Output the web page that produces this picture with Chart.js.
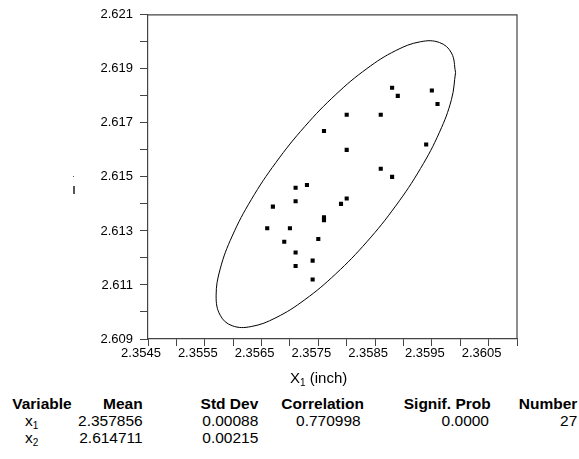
<!DOCTYPE html>
<html>
<head>
<meta charset="utf-8">
<script src="https://cdn.jsdelivr.net/npm/chart.js@4.4.0/dist/chart.umd.min.js"></script>
<style>
    body { margin: 0; background: #fff; font-family: 'Liberation Sans', Arial, sans-serif; }
    #wrap { position: relative; width: 579px; height: 459px; overflow: hidden; }
    #myChart { position: absolute; left: 0; top: 0; }
    .txt { position: absolute; white-space: nowrap; font-size: 15.5px; line-height: 18px; color: #000; }
    .hdr { font-weight: bold; }
    .txt sub { font-size: 10px; vertical-align: -3px; }
    #xTitle { position: absolute; left: 290px; top: 369px; font-size: 15px; line-height: 18px; white-space: nowrap; }
    #xTitle sub { font-size: 10px; vertical-align: -3px; }
    .frag { position: absolute; background: #555; }
</style>
</head>
<body>
<div id="wrap">
    <canvas id="myChart" width="579" height="370"></canvas>
    <div class="frag" style="left:73px; top:176px; width:1px; height:1px;"></div>
    <div class="frag" style="left:73px; top:186px; width:2px; height:8px;"></div>
    <div id="xTitle">X<sub>1</sub> (inch)</div>
    <div id="statsTable"></div>
</div>
<script>
// Scatter points (x1, x2)
const xValues = [2.3588, 2.3589, 2.3595, 2.3596, 2.3580, 2.3586, 2.3576, 2.3594, 2.3580,
                 2.3586, 2.3588, 2.3573, 2.3571, 2.3571, 2.3567, 2.3580, 2.3579, 2.3576,
                 2.3576, 2.3566, 2.3570, 2.3575, 2.3569, 2.3571, 2.3574, 2.3571, 2.3574];
const yValues = [2.6183, 2.6180, 2.6182, 2.6177, 2.6173, 2.6173, 2.6167, 2.6162, 2.6160,
                 2.6153, 2.6150, 2.6147, 2.6146, 2.6141, 2.6139, 2.6142, 2.6140, 2.6135,
                 2.6134, 2.6131, 2.6131, 2.6127, 2.6126, 2.6122, 2.6119, 2.6117, 2.6112];

// Density ellipse outline, read around the curve
const ellipseX = [2.359918, 2.359846, 2.359635, 2.359300, 2.358863, 2.358355, 2.357809, 2.357263,
                  2.356755, 2.356318, 2.355983, 2.355772, 2.355700, 2.355772, 2.355983, 2.356318,
                  2.356755, 2.357263, 2.357809, 2.358355, 2.358863, 2.359300, 2.359635, 2.359846, 2.359918];
const ellipseY = [2.618868, 2.619586, 2.619973, 2.620003, 2.619674, 2.619008, 2.618051, 2.616867,
                  2.615538, 2.614154, 2.612809, 2.611596, 2.610596, 2.609878, 2.609491, 2.609461,
                  2.609790, 2.610456, 2.611414, 2.612597, 2.613926, 2.615310, 2.616655, 2.617868, 2.618868];

// Tick labels
const xTickLabels = ['2.3545', '2.3555', '2.3565', '2.3575', '2.3585', '2.3595', '2.3605'];
const yTickLabels = ['2.609', '2.611', '2.613', '2.615', '2.617', '2.619', '2.621'];

// Summary table
const statsHeaders = ['Variable', 'Mean', 'Std Dev', 'Correlation', 'Signif. Prob', 'Number'];
const statsVars = ['1', '2'];
const statsMeans = ['2.357856', '2.614711'];
const statsStdDevs = ['0.00088', '0.00215'];
const statsCorrelation = '0.770998';
const statsSignif = '0.0000';
const statsNumber = '27';

const axisColor = '#444';
const tickFont = { family: "'Liberation Sans', Arial, sans-serif", size: 13 };

// Frame on the top and right side of the plot
const framePlugin = {
    id: 'frame',
    afterDraw(chart) {
        const { ctx, chartArea: a } = chart;
        ctx.save();
        ctx.strokeStyle = axisColor;
        ctx.lineWidth = 1.2;
        ctx.beginPath();
        ctx.moveTo(a.left, a.top);
        ctx.lineTo(a.right, a.top);
        ctx.lineTo(a.right, a.bottom);
        ctx.stroke();
        ctx.restore();
    }
};

const ctx = document.getElementById('myChart').getContext('2d');
const myChart = new Chart(ctx, {
    type: 'scatter',
    data: {
        datasets: [{
            label: 'ellipse',
            data: ellipseX.map((x, i) => ({ x: x, y: ellipseY[i] })),
            showLine: true,
            borderColor: '#000',
            borderWidth: 1,
            pointRadius: 0,
            tension: 0.4,
            fill: false
        }, {
            label: 'points',
            data: xValues.map((x, i) => ({ x: x, y: yValues[i] })),
            pointStyle: 'rect',
            pointRadius: 2.9,
            pointBorderWidth: 0,
            pointBackgroundColor: '#000',
            borderWidth: 0
        }]
    },
    options: {
        responsive: false,
        animation: false,
        layout: { padding: { left: 100, right: 62, top: 12, bottom: 1 } },
        plugins: { legend: { display: false }, tooltip: { enabled: false } },
        scales: {
            x: {
                type: 'linear',
                min: 2.3545,
                max: 2.3610,
                afterFit: (scale) => { scale.height = 30; },
                border: { display: true, color: axisColor, width: 1.2 },
                grid: { drawOnChartArea: false, drawTicks: true, tickLength: 7, color: axisColor },
                ticks: {
                    stepSize: 0.0005,
                    autoSkip: false,
                    maxRotation: 0,
                    padding: 0,
                    labelOffset: -7,
                    color: '#000',
                    font: tickFont,
                    callback: (value, index) => index % 2 === 0 ? (xTickLabels[index / 2] || '') : ''
                }
            },
            y: {
                type: 'linear',
                min: 2.609,
                max: 2.621,
                afterFit: (scale) => { scale.width = 48; },
                border: { display: true, color: axisColor, width: 1.2 },
                grid: { drawOnChartArea: false, drawTicks: true, tickLength: 8, color: axisColor },
                ticks: {
                    stepSize: 0.001,
                    autoSkip: false,
                    padding: 7,
                    color: '#000',
                    font: tickFont,
                    callback: (value, index) => index % 2 === 0 ? (yTickLabels[index / 2] || '') : ''
                }
            }
        }
    },
    plugins: [framePlugin]
});

// Build the stats table below the chart
function addText(html, top, opts) {
    const el = document.createElement('div');
    el.className = 'txt' + (opts.bold ? ' hdr' : '');
    el.innerHTML = html;
    el.style.top = top + 'px';
    if (opts.left !== undefined) el.style.left = opts.left + 'px';
    if (opts.right !== undefined) el.style.right = (579 - opts.right) + 'px';
    document.getElementById('statsTable').appendChild(el);
}

const colRight = [71.7, 142.7, 258.3, 364, 490.7, 577.3];
const headerTop = 395, rowTop = [412, 428.5];

statsHeaders.forEach((h, i) => addText(h, headerTop, { bold: true, right: colRight[i] }));

statsVars.forEach((v, r) => {
    addText('x<sub>' + v + '</sub>', rowTop[r], { left: 25 });
    addText(statsMeans[r], rowTop[r], { right: 142.7 });
    addText(statsStdDevs[r], rowTop[r], { right: 258.3 });
});
addText(statsCorrelation, rowTop[0], { right: 360.7 });
addText(statsSignif, rowTop[0], { right: 489 });
addText(statsNumber, rowTop[0], { right: 577.3 });
</script>
</body>
</html>
